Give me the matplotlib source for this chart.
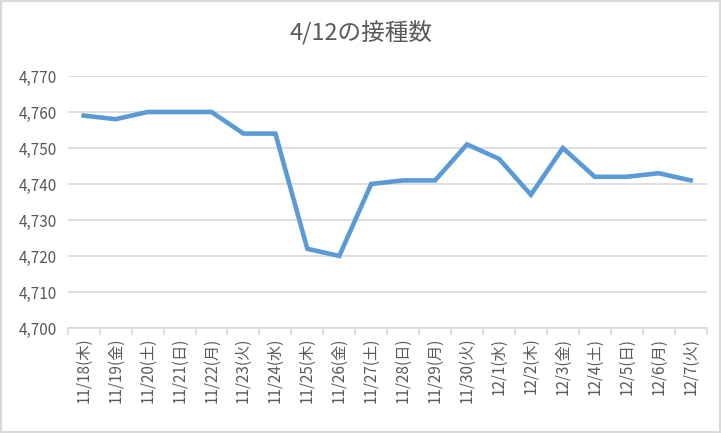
import matplotlib.pyplot as plt
from matplotlib.patches import Rectangle
from matplotlib.ticker import FuncFormatter, MultipleLocator

plt.rcParams['font.family'] = ['Noto Sans CJK JP', 'DejaVu Sans']

# data
dates = ["11/18(木)", "11/19(金)", "11/20(土)", "11/21(日)", "11/22(月)", "11/23(火)",
         "11/24(水)", "11/25(木)", "11/26(金)", "11/27(土)", "11/28(日)", "11/29(月)",
         "11/30(火)", "12/1(水)", "12/2(木)", "12/3(金)", "12/4(土)", "12/5(日)",
         "12/6(月)", "12/7(火)"]
counts = [4759, 4758, 4760, 4760, 4760, 4754, 4754, 4722, 4720, 4740, 4741, 4741,
          4751, 4747, 4737, 4750, 4742, 4742, 4743, 4741]

text_col = "#595959"
grid_col = "#D9D9D9"

fig = plt.figure(figsize=(7.21, 4.33), dpi=100)
ax = fig.add_axes([0.094, 0.2425, 0.886, 0.582])

x = list(range(len(dates)))
ax.plot(x, counts, color="#5B9BD5", linewidth=3.3, solid_joinstyle="miter", zorder=3)

ax.set_xlim(-0.5, len(dates) - 0.5)
ax.set_ylim(4700, 4770)
ax.yaxis.set_major_locator(MultipleLocator(10))
ax.yaxis.set_major_formatter(FuncFormatter(lambda v, p: f"{int(v):,}"))
ax.grid(axis="y", color=grid_col, linewidth=1.2)
ax.set_axisbelow(True)

for s in ["top", "right", "left"]:
    ax.spines[s].set_visible(False)
ax.spines["bottom"].set_color(grid_col)
ax.spines["bottom"].set_linewidth(1.2)

ax.set_xticks(x)
ax.set_xticklabels(dates, rotation=90, fontsize=11, color=text_col)
ax.tick_params(axis="x", which="major", length=0, pad=7)
ax.set_xticks([i - 0.5 for i in range(len(dates) + 1)], minor=True)
ax.tick_params(axis="x", which="minor", length=5, color=grid_col, width=1.2)
ax.tick_params(axis="y", length=0, labelsize=11, labelcolor=text_col, pad=8)

fig.text(0.5, 0.922, "4/12の接種数", ha="center", va="center", fontsize=17, color=text_col)

# outer frame
fig.patches.append(Rectangle((0.002, 0.003), 0.996, 0.994, transform=fig.transFigure,
                             fill=False, edgecolor="#D9D9D9", linewidth=1.5))

fig.savefig("out.png", dpi=100)
plt.close()
